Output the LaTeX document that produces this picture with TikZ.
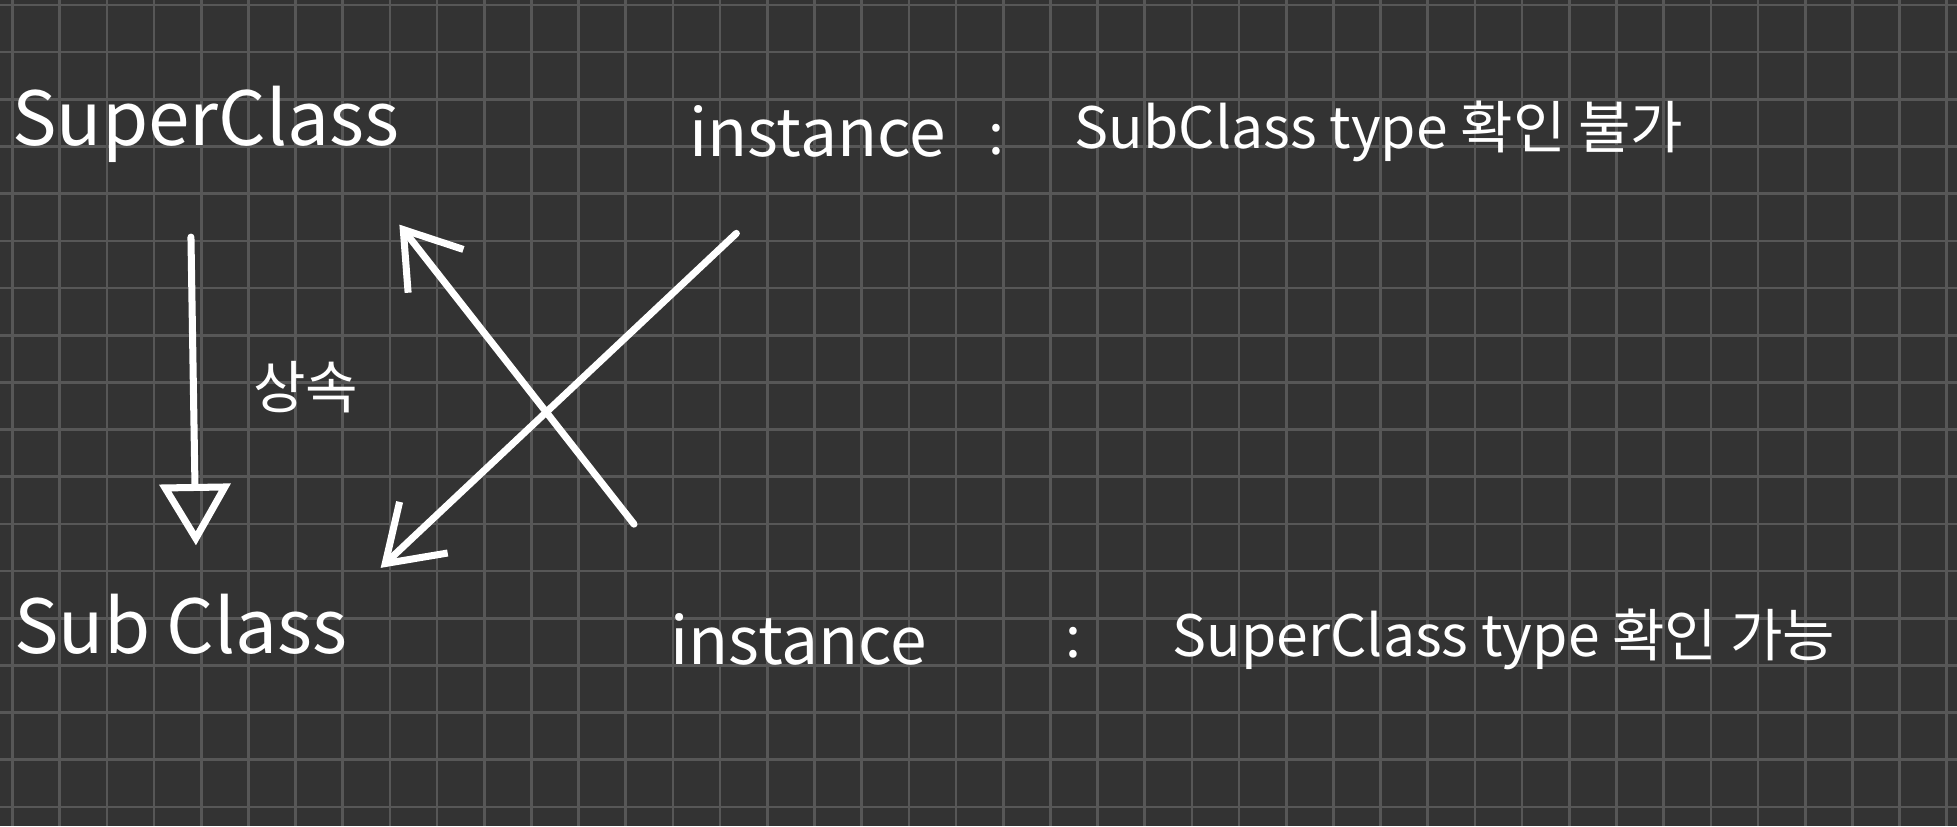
\documentclass[tikz,border=0pt]{standalone}
\usepackage{fontspec}
\setmainfont{Open Sans}
\newfontfamily\kofont{Noto Sans CJK KR}
\usetikzlibrary{arrows.meta,positioning}
\definecolor{boardbg}{HTML}{333333}
\definecolor{gridln}{HTML}{575757}
\tikzset{
	label big/.style={text=white,font=\fontsize{17}{21}\selectfont\kofont,inner sep=0pt},
	label inst/.style={text=white,font=\fontsize{15}{18}\selectfont\kofont,inner sep=0pt},
	label mid/.style={text=white,font=\fontsize{13}{16}\selectfont\kofont,inner sep=0pt},
	chalk/.style={draw=white,line width=1.6pt,line cap=round},
}
\begin{document}
\begin{tikzpicture}[x=0.01cm,y=-0.01cm]
	\fill[boardbg] (0,0) rectangle (1568,662);
	\useasboundingbox (0,0) rectangle (1568,662);
	% grid
	\foreach \i in {0,...,42} {
		\draw[gridln,line width=0.6pt] (\i*37.8+10,0) -- (\i*37.8+10,662);
	}
	\foreach \j in {0,...,18} {
		\draw[gridln,line width=0.6pt] (0,\j*37.8+4) -- (1568,\j*37.8+4);
	}
	\node (super) at (165,100) [label big] {SuperClass};
	\node (sub) at (145,500) [label big] {Sub Class};
	\node (inherit) at (245,310) [label mid] {상속};
	\node (inst1) at (655,105) [label inst] {instance};
	\node (colon1) at (798,112) [label mid] {:};
	\node (info1) at (1105,105) [label mid] {SubClass type 확인 불가};
	\node (inst2) at (640,512) [label inst] {instance};
	\node (colon2) at (860,515) [label mid] {:};
	\node (info2) at (1205,512) [label mid] {SuperClass type 확인 가능};
	\coordinate (T1) at (153,190);
	\coordinate (T2) at (157,437);
	\coordinate (T3) at (508,420);
	\coordinate (T4) at (320,180);
	\coordinate (T5) at (590,187);
	\coordinate (T6) at (305,455);
	\draw[chalk,-{Triangle[open,length=14pt,width=16pt]}] (T1) -- (T2);
	\draw[chalk,-{Straight Barb[length=12pt,width=16pt]}] (T3) -- (T4);
	\draw[chalk,-{Straight Barb[length=12pt,width=16pt]}] (T5) -- (T6);
\end{tikzpicture}
\end{document}
